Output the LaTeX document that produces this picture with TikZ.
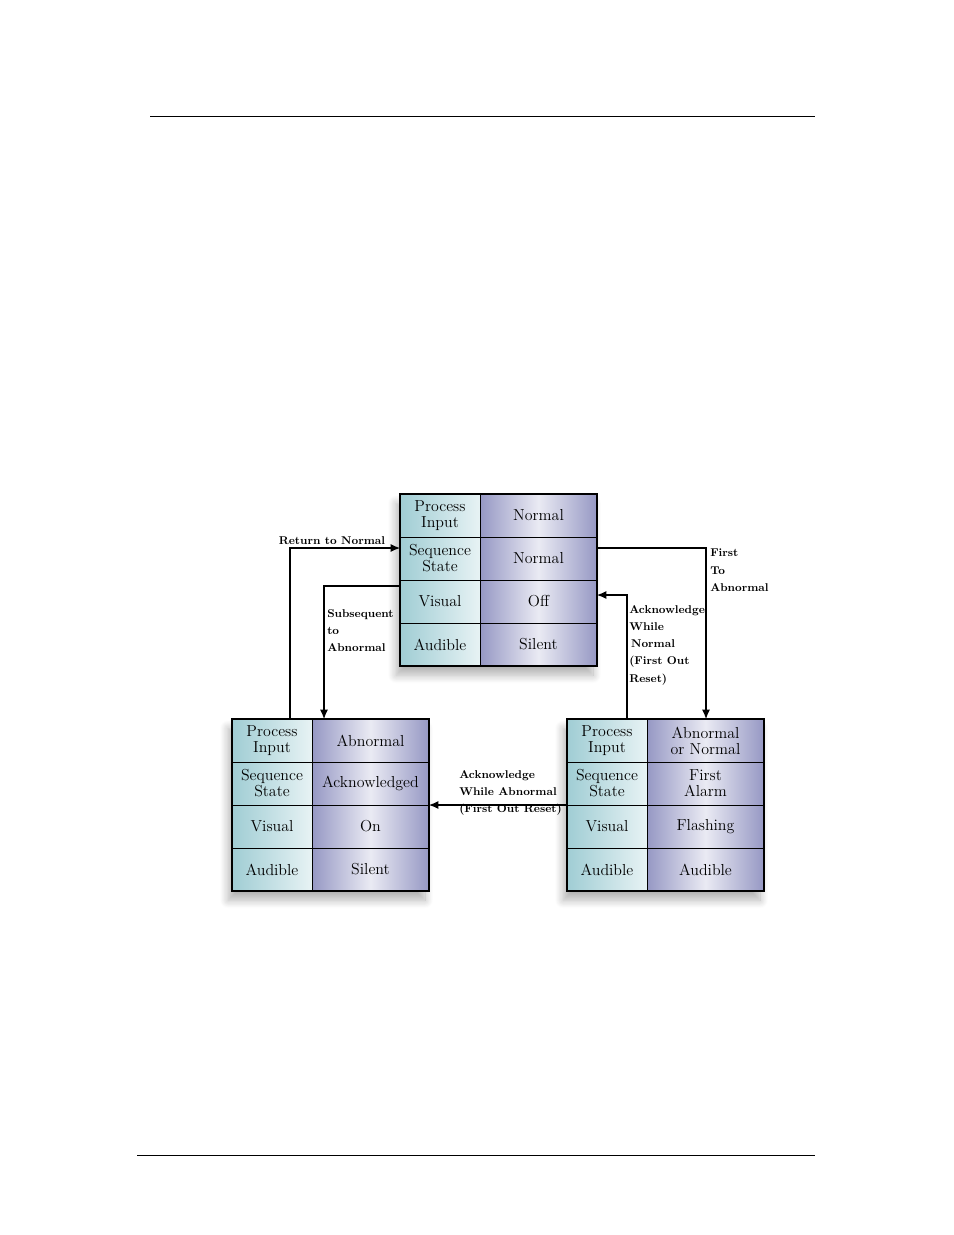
\documentclass[tikz,border=0pt]{standalone}
\usepackage{tikz}
\usetikzlibrary{arrows.meta,positioning,calc,shadows.blur}
\definecolor{tealcell}{RGB}{160,205,212}
\definecolor{lavcell}{RGB}{150,152,196}
\tikzset{
    keycell/.style={draw=black, thin, outer sep=0pt, minimum width=80*0.0265cm, minimum height=43*0.0265cm,
        inner sep=0pt, align=center, font=\fontsize{12}{12}\selectfont,
        left color=tealcell, right color=white!75!tealcell},
    valcell/.style={draw=black, thin, outer sep=0pt, minimum width=117*0.0265cm, minimum height=43*0.0265cm,
        inner sep=0pt, align=center, font=\fontsize{12}{12}\selectfont,
        left color=lavcell, right color=lavcell, middle color=white!80!lavcell},
    boxframe/.style={draw=black, line width=1.6pt, minimum width=197*0.0265cm,
        minimum height=172*0.0265cm, inner sep=0pt, outer sep=0pt,
        blur shadow={shadow xshift=-3pt, shadow yshift=-7pt, shadow blur steps=12,
        shadow blur radius=6pt, shadow opacity=30}},
    flow/.style={thick, -{Latex[length=7pt,width=6pt]}},
    note/.style={font=\bfseries\fontsize{8.5}{13}\selectfont, align=left, inner sep=0pt}
}
% one state box: name, left x, top y, value texts
\newcommand{\statebox}[7]{%
    \node[boxframe, anchor=north west, fill=white] (#1) at (#2,#3) {};
    \node[keycell, anchor=north west] (#1Pin) at (#2,#3) {Process\\Input};
    \node[valcell, right=0pt of #1Pin] (#1Pv) {#4};
    \node[keycell, below=0pt of #1Pin] (#1Seq) {Sequence\\State};
    \node[valcell, right=0pt of #1Seq] (#1Sv) {#5};
    \node[keycell, below=0pt of #1Seq] (#1Vis) {Visual};
    \node[valcell, right=0pt of #1Vis] (#1Vv) {#6};
    \node[keycell, below=0pt of #1Vis] (#1Aud) {Audible};
    \node[valcell, right=0pt of #1Aud] (#1Av) {#7};
    \draw[line width=1.6pt] (#1.north west) rectangle (#1.south east);
}

\begin{document}
\begin{tikzpicture}[x=0.0265cm, y=-0.0265cm]
    \useasboundingbox (0,0) rectangle (954,1235);

    % page rules
    \draw[thin] (150,116) -- (815,116);
    \draw[thin] (137,1155) -- (815,1155);

    % states
    \statebox{top}{400}{494}{Normal}{Normal}{Off}{Silent}
    \statebox{ack}{232}{719}{Abnormal}{Acknowledged}{On}{Silent}
    \statebox{alarm}{567}{719}{Abnormal\\or Normal}{First\\Alarm}{Flashing}{Audible}

    % transitions
    \coordinate (retIn) at (400,548);
    \draw[flow] (ack.north -| 290,0) -- (290,548) -- (retIn);
    \node[note, anchor=south] (retLbl) at (332,545) {Return to Normal};

    \draw[flow] (400,586) -- (324,586) -- (ack.north -| 324,0);
    \node[note, anchor=north west] (subLbl) at (327,609) {Subsequent\\to\\Abnormal};

    \draw[flow] (597,548) -- (706,548) -- (alarm.north -| 706,0);
    \node[note, anchor=north west] (firstLbl) at (710,549) {First\\To\\Abnormal};

    \draw[flow] (alarm.north -| 627,0) -- (627,595) -- (597,595);
    \node[note, anchor=north west] (acknLbl) at (629,605) {Acknowledge\\While\\\,Normal\\(First Out\\Reset)};

    \draw[flow] (alarm.west |- 0,805) -- (ack.east |- 0,805);
    \node[note, anchor=north west] (ackaLbl) at (459,770) {Acknowledge\\While Abnormal\\(First Out Reset)};
\end{tikzpicture}
\end{document}
